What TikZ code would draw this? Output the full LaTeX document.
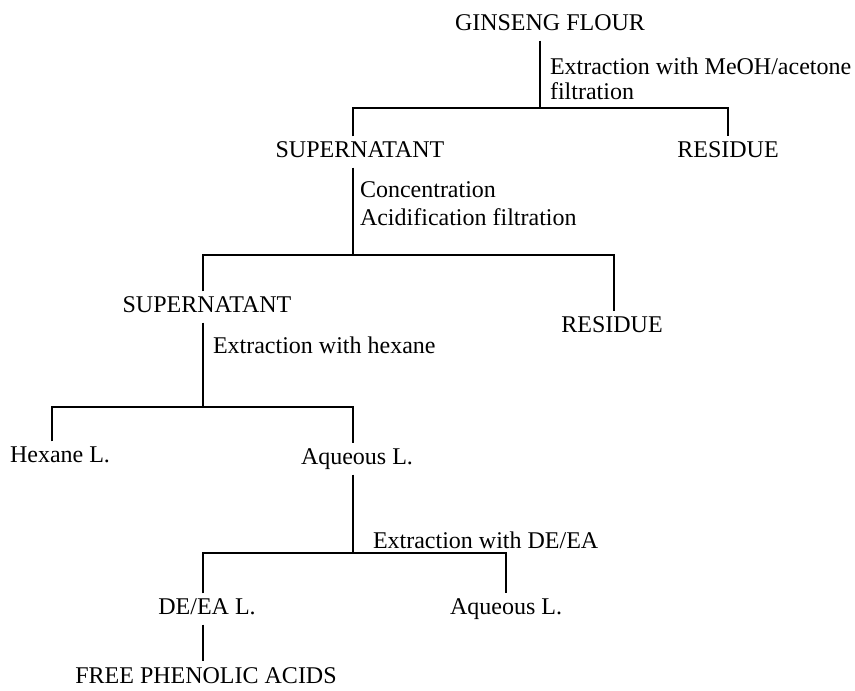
\documentclass[tikz,border=0pt]{standalone}
\usepackage{fontspec}
\setmainfont{Liberation Serif}
\begin{document}
\begin{tikzpicture}[x=0.75pt,y=-0.75pt,
  every node/.style={font=\fontsize{18}{19}\selectfont},
  item/.style={inner xsep=0pt, inner ysep=4pt, outer sep=0pt, text height=12pt, text depth=3.5pt},
  note/.style={inner sep=0pt, outer sep=0pt, align=left},
  link/.style={line width=1.1pt, line join=miter}]
\useasboundingbox (0,0) rectangle (855,691);

% products
\node[item] (gf)   at (550,25)  {GINSENG FLOUR};
\node[item] (sup1) at (360,152) {SUPERNATANT};
\node[item] (res1) at (728,152) {RESIDUE};
\node[item] (sup2) at (207,307) {SUPERNATANT};
\node[item] (res2) at (612,327) {RESIDUE};
\node[item] (hex)  at (60,457)  {Hexane L.};
\node[item] (aq1)  at (357,459) {Aqueous L.};
\node[item] (de)   at (207,609) {DE/EA L.};
\node[item] (aq2)  at (506,609) {Aqueous L.};
\node[item] (fpa)  at (206,678) {FREE PHENOLIC ACIDS};

% step labels
\node[note, anchor=north west] (l1) at (550,58) {Extraction with MeOH/acetone\\filtration};
\node[note, anchor=north west] (l2) at (360,182) {Concentration\\[2pt]Acidification filtration};
\node[note, anchor=west] (l3) at (213,345) {Extraction with hexane};
\node[note, anchor=west] (l4) at (373,540) {Extraction with DE/EA};

% junctions
\coordinate (j1) at (540,108);
\coordinate (j2) at (353,255);
\coordinate (j3) at (203,407);
\coordinate (j4) at (353,553);

% connectors
\draw[link] (gf.south -| j1) -- (j1);
\draw[link] (sup1.north -| j2) |- (j1) -| (res1.north);
\draw[link] (sup1.south -| j2) -- (j2);
\draw[link] (sup2.north -| j3) |- (j2) -| ([xshift=1.5pt]res2.north);
\draw[link] (sup2.south -| j3) -- (j3);
\draw[link] ([xshift=-6pt]hex.north) |- (j3) -| (aq1.north -| j4);
\draw[link] (aq1.south -| j4) -- (j4);
\draw[link] (de.north -| j3) |- (j4) -| (aq2.north);
\draw[link] (de.south -| j3) -- ([yshift=1pt]fpa.north -| j3);
\end{tikzpicture}
\end{document}
